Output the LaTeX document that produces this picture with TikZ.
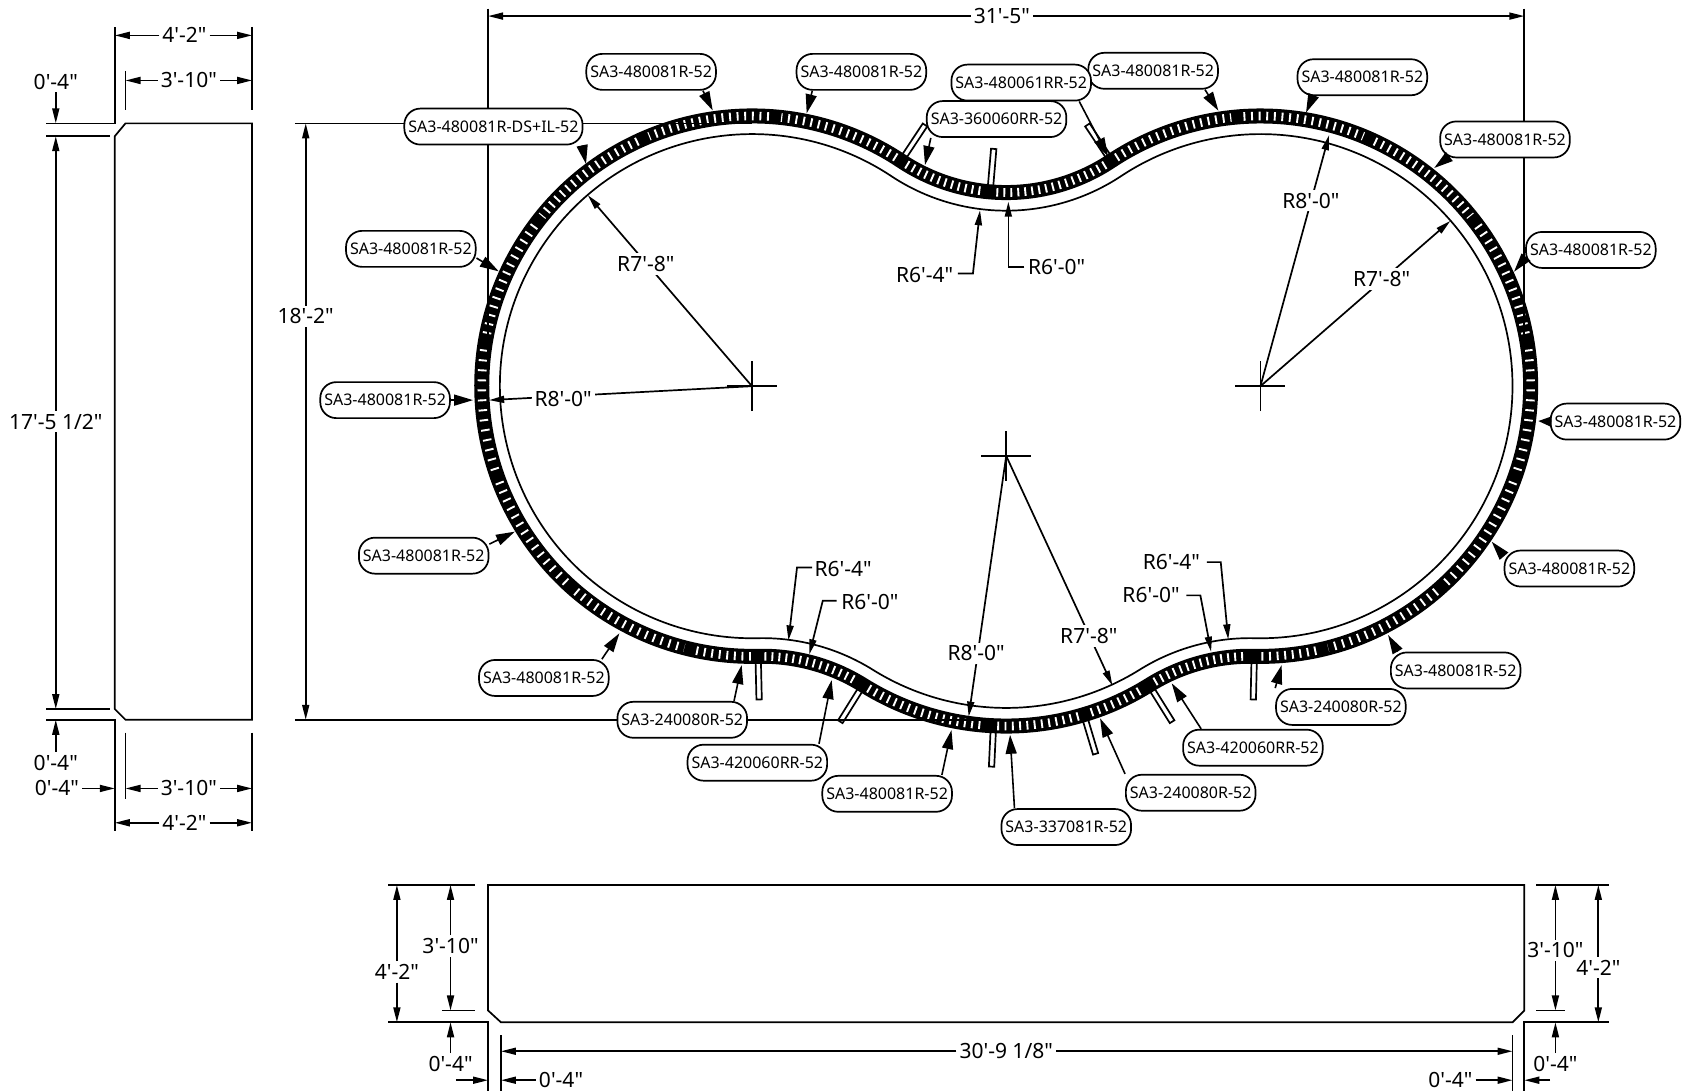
\documentclass[tikz,border=0pt]{standalone}
\usepackage{fontspec}
\usetikzlibrary{arrows.meta}
\newfontfamily\cadfont{Noto Sans}
\newcommand{\kilnpath}[2]{(701,360) ++(-56.47:#1) arc[start angle=-56.47,end angle=-271.31,radius=#1]
	arc[start angle=-91.31,end angle=-58.03,radius=#2]
	arc[start angle=121.97,end angle=58.03,radius=#1]
	arc[start angle=-121.97,end angle=-88.69,radius=#2]
	arc[start angle=91.31,end angle=-123.53,radius=#1]
	arc[start angle=56.47,end angle=123.53,radius=#2] -- cycle}
\tikzset{
	thinline/.style={line width=1.7pt},
	dimarrow/.style={line width=1.7pt,-{Triangle[length=15pt,width=7pt]}},
	leader/.style={line width=1.6pt,-{Triangle[length=19pt,width=11pt]}},
	dimtext/.style={font=\cadfont\fontsize{21}{24}\selectfont,inner sep=3pt},
	tag/.style={draw,line width=1.7pt,fill=white,rounded corners=16pt,minimum height=36pt,inner xsep=4pt,inner ysep=0pt,font=\cadfont\fontsize{16}{18}\selectfont},
}
\begin{document}
\begin{tikzpicture}[x=1.0727pt,y=-1.0727pt]
	\useasboundingbox (0,0) rectangle (1568,1017);
	% Centre Points %
	\coordinate (lobeleft) at (701,360);
	\coordinate (loberight) at (1175,360);
	\coordinate (lobebottom) at (938,425);
	% Inner Line %
	\draw [thinline] \kilnpath{235}{194.1};
	% Black Band %
	\draw [black,line width=15pt] \kilnpath{251.9}{177.2};
	% White Ticks, Lobes %
	\foreach \cx/\cy/\aa/\ab/\pp in {701/360/-56.47/-85.1/7.6, 701/360/-85.1/-113.7/7.6, 701/360/-113.7/-142.3/7.6, 701/360/-142.3/-170.9/9, 701/360/-170.9/-199.5/10, 701/360/-199.5/-228.1/9.2, 701/360/-228.1/-256.8/8.2, 701/360/-256.8/-271.31/7.6,
		1175/360/-123.53/-94.9/7.6, 1175/360/-94.9/-66.3/7.6, 1175/360/-66.3/-37.7/7.6, 1175/360/-37.7/-9.1/9, 1175/360/-9.1/19.5/10, 1175/360/19.5/48.1/9.2, 1175/360/48.1/76.8/8.2, 1175/360/76.8/91.31/7.6,
		938/425/121.97/93.2/7.3, 938/425/93.2/73/7.3, 938/425/73/58.03/7.3}
	{
		\pgfmathsetmacro{\sg}{\ab>\aa ? 1.3 : -1.3}
		\pgfmathsetmacro{\sa}{\aa+\sg}
		\pgfmathsetmacro{\sb}{\ab-\sg}
		\pgfmathsetmacro{\off}{\pp-1.9}
		\draw [white,line width=8.6pt,dash pattern=on 1.9pt off \off pt] (\cx,\cy) ++(\sa:251.9) arc[start angle=\sa,end angle=\sb,radius=251.9];
	}
	% White Ticks, Bends %
	\foreach \cx/\cy/\aa/\ab in {938/2.3/123.53/94.87, 938/2.3/94.87/56.47, 710.8/789/-91.31/-58.03, 1165.2/789/-121.97/-88.69}
	{
		\pgfmathsetmacro{\sg}{1.9}
		\pgfmathsetmacro{\sa}{\ab>\aa ? \aa+\sg : \aa-\sg}
		\pgfmathsetmacro{\sb}{\ab>\aa ? \ab-\sg : \ab+\sg}
		\draw [white,line width=8.6pt,dash pattern=on 1.9pt off 5.1pt] (\cx,\cy) ++(\sa:177.2) arc[start angle=\sa,end angle=\sb,radius=177.2];
	}
	% Tubes %
	\foreach \cx/\cy/\aa/\ra/\rb in {938/2.3/123.53/137/171, 938/2.3/94.87/137/171, 938/2.3/56.47/137/171,
		710.8/789/-91.31/137/171, 710.8/789/-58.03/137/171, 1165.2/789/-88.69/137/171, 1165.2/789/-121.97/137/171,
		938/425/92.7/258/290, 938/425/73.3/258/290}
	{
		\draw [thinline,fill=white,shift={(\cx,\cy)},rotate=-\aa] (\ra,-2.5) rectangle (\rb,2.5);
	}
	% Extension Lines %
	\draw [thinline] (275,115) -- (lobeleft |- 0,115);
	\draw [thinline] (275,671) -- (lobebottom |- 0,671);
	\draw [thinline] (455,8) -- (455,360);
	\draw [thinline] (1421,8) -- (1421,360);
	% Side Panel %
	\draw [thinline] (117,115) -- (235,115) -- (235,671) -- (117,671) -- (107,661) -- (107,127) -- cycle;
	\draw [thinline] (43,115) -- (107,115) -- (107,25);
	\draw [thinline] (43,127) -- (103,127);
	\draw [thinline] (235,25) -- (235,103);
	\draw [thinline] (117,66) -- (117,103);
	\draw [thinline] (43,661) -- (103,661);
	\draw [thinline] (43,671) -- (107,671) -- (107,775);
	\draw [thinline] (117,683) -- (117,745);
	\draw [thinline] (235,683) -- (235,775);
	% Front Panel %
	\draw [thinline] (455,825) -- (1421,825) -- (1421,942) -- (1410,953) -- (467,953) -- (455,942) -- cycle;
	\draw [thinline] (362,825) -- (443,825);
	\draw [thinline] (412,942) -- (443,942);
	\draw [thinline] (362,953) -- (455,953) -- (455,1017);
	\draw [thinline] (467,965) -- (467,1017);
	\draw [thinline] (1410,965) -- (1410,1017);
	\draw [thinline] (1421,1017) -- (1421,953) -- (1500,953);
	\draw [thinline] (1432,825) -- (1500,825);
	\draw [thinline] (1432,942) -- (1459,942);
	% Crosses %
	\foreach \c in {lobeleft,loberight,lobebottom}
	{
		\draw [thinline] ([xshift=-25pt]\c) -- ([xshift=25pt]\c);
		\draw [thinline] ([yshift=-25pt]\c) -- ([yshift=25pt]\c);
	}
	% Dimensions, Two Arrows %
	\foreach \n/\x/\y/\txt/\ax/\ay/\bx/\by in {wa/172/33/4'-2"/107/33/235/33, wb/176/75/3'-10"/117/75/235/75, wc/176/735/3'-10"/117/735/235/735, wd/172/767/4'-2"/107/767/235/767,
		he/285/295/18'-2"/285/115/285/671, wf/934/15/31'-5"/455/15/1421/15,
		hg/370/906/4'-2"/370/825/370/953, hh/420/882/3'-10"/420/825/420/942, hi/1450/886/3'-10"/1450/825/1450/942, hj/1490/902/4'-2"/1490/825/1490/953}
	{
		\node [dimtext] (\n) at (\x,\y) {\txt};
		\coordinate (\n a) at (\ax,\ay);
		\coordinate (\n b) at (\bx,\by);
		\draw [dimarrow] (\n) -- (\n a);
		\draw [dimarrow] (\n) -- (\n b);
	}
	\node [dimtext] (hlong) at (52,393) {17'-5 1/2"};
	\coordinate (hlonga) at (52,127);
	\coordinate (hlongb) at (52,661);
	\draw [dimarrow] (hlong) -- (hlonga);
	\draw [dimarrow] (hlong) -- (hlongb);
	\node [dimtext] (wlong) at (938,980) {30'-9 1/8"};
	\coordinate (wlonga) at (467,980);
	\coordinate (wlongb) at (1410,980);
	\draw [dimarrow] (wlong) -- (wlonga);
	\draw [dimarrow] (wlong) -- (wlongb);
	% Dimensions, One Arrow %
	\foreach \n/\x/\y/\txt/\ax/\ay in {ga/52/76/0'-4"/52/115, gb/52/711/0'-4"/52/671, gc/53/735/0'-4"/107/735,
		gd/420/992/0'-4"/420/953, ge/523/1007/0'-4"/467/1007, gf/1352/1007/0'-4"/1410/1007, gg/1450/992/0'-4"/1450/953}
	{
		\node [dimtext] (\n) at (\x,\y) {\txt};
		\coordinate (\n a) at (\ax,\ay);
		\draw [dimarrow] (\n) -- (\n a);
	}
	\coordinate (gha) at (425,1007);
	\coordinate (ghb) at (455,1007);
	\draw [dimarrow] (gha) -- (ghb);
	\coordinate (gia) at (1445,1007);
	\coordinate (gib) at (1421,1007);
	\draw [dimarrow] (gia) -- (gib);
	% Radius Lines %
	\foreach \n/\c/\x/\y/\txt/\ax/\ay in {ra/lobeleft/602/246/R7'-8"/548/182, rb/lobeleft/525/372/R8'-0"/456/373,
		rc/loberight/1222/187/R8'-0"/1239/126, rd/loberight/1288/260/R7'-8"/1352/206,
		re/lobebottom/910/609/R8'-0"/903/668, rf/lobebottom/1015/593/R7'-8"/1037/639}
	{
		\coordinate (\n a) at (\ax,\ay);
		\draw [dimarrow] (\c) -- (\n a);
		\node [dimtext,fill=white] (\n) at (\x,\y) {\txt};
	}
	% Bend Radius Lines %
	\foreach \n/\x/\y/\txt/\sx/\sy/\ex/\ey/\ax/\ay in {sa/862/256/R6'-4"/893/255/907/255/913.6/196, sb/985/249/R6'-0"/955/249/940/249/940/188,
		sc/786/530/R6'-4"/757/529/743/529/735/597, sd/811/561/R6'-0"/780/560/767/560/754.5/610,
		se/1092/524/R6'-4"/1125/524/1138/524/1145/596, sf/1073/555/R6'-0"/1106/555/1119/555/1129/607.5}
	{
		\node [dimtext] (\n) at (\x,\y) {\txt};
		\coordinate (\n a) at (\ax,\ay);
		\draw [dimarrow] (\sx,\sy) -- (\ex,\ey) -- (\n a);
	}
	% Section Tags %
	\foreach \n/\x/\y/\a/\tx/\ty/\txt in {1/460/118/-12/546.3/152.9/SA3-480081R-DS+IL-52, 2/607/67/-20/664.4/103/SA3-480081R-52, 3/803/67/-159/752/105.6/SA3-480081R-52,
		4/929/111/-164/862.3/153.8/SA3-360060RR-52, 6/1075/66/-20/1135.8/103.2/SA3-480081R-52, 5/952/77/-18/1033/146/SA3-480061RR-52,
		7/1270/72/-159/1217.5/105/SA3-480081R-52, 8/1403/130/-162/1337/156.6/SA3-480081R-52, 9/1483/233/-173/1411.4/253.3/SA3-480081R-52,
		11/1463/530/169/1390.6/505/SA3-480081R-52, 12/1357/625/162/1294/592/SA3-480081R-52,
		13/1250/659/164/1194.8/620/SA3-240080R-52, 14/1168/697/160/1092.3/637/SA3-420060RR-52, 15/1110/739/164/1025.5/669.6/SA3-240080R-52,
		16/994/771/160/941.6/685/SA3-337081R-52, 17/827/740/19/887/680.6/SA3-480081R-52, 18/706/711/17/775.3/634/SA3-420060RR-52,
		19/636/671/20/691.4/620/SA3-240080R-52, 20/507/632/18/577.4/590.4/SA3-480081R-52, 21/395/518/10/480/495.6/SA3-480081R-52,
		22/359/373/0/441/373/SA3-480081R-52, 23/383/232/-8/465/253/SA3-480081R-52}
	{
		\node [tag] (lbl\n) at (\x,\y) {\txt};
		\coordinate (tip\n) at (\tx,\ty);
		\draw [leader] (lbl\n.\a) -- (tip\n);
	}
	\node [tag] (lbl10) at (1506,393) {SA3-480081R-52};
	\coordinate (tip10) at (1434,392.5);
	\draw [line width=1.6pt,-{Triangle[length=13pt,width=10pt]}] (lbl10.west) -- (tip10);
\end{tikzpicture}
\end{document}
